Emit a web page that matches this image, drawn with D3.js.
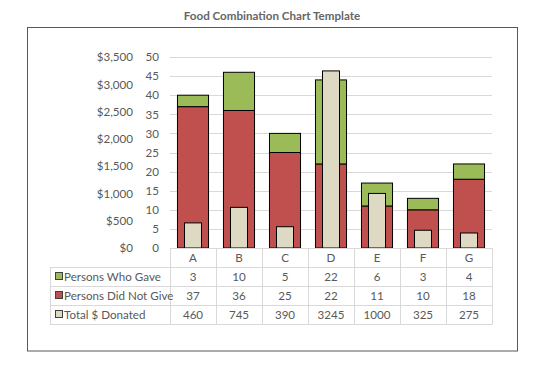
<!DOCTYPE html>
<html><head><meta charset="utf-8">
<script src="https://cdn.jsdelivr.net/npm/d3@7"></script>
<style>body{margin:0;background:#fff}svg{display:block}text{font-family:Lato,"Open Sans",sans-serif}</style>
</head><body>
<script>
const categories = ["A","B","C","D","E","F","G"];
const personsWhoGave = [3,10,5,22,6,3,4];
const personsDidNotGive = [37,36,25,22,11,10,18];
const totalDonated = [460,745,390,3245,1000,325,275];
const personTicks = [0,5,10,15,20,25,30,35,40,45,50];
const dollarTicks = [0,500,1000,1500,2000,2500,3000,3500];
const seriesNames = ["Persons Who Gave","Persons Did Not Give","Total $ Donated"];
const seriesColors = ["#9BBB59","#C0504D","#DDD9C3"];

const W=552,H=392;
const svg=d3.select("body").append("svg").attr("width",W).attr("height",H);
const txt="#595959", grid="#D9D9D9";
const fs=11.6;

svg.append("rect").attr("x",27.5).attr("y",27.5).attr("width",490).attr("height",323.5)
  .attr("fill","none").attr("stroke","#595959").attr("stroke-width",1);

svg.append("text").attr("x",272).attr("y",20).attr("text-anchor","middle")
  .attr("font-size",11.6).attr("font-weight","bold").attr("fill","#666").text("Food Combination Chart Template");

const x=d3.scaleBand().domain(categories).range([170,492]).padding(0);
const yP=d3.scaleLinear().domain([0,50]).range([248,57]);
const yD=d3.scaleLinear().domain([0,3500]).range([248,57]);

// gridlines
svg.append("g").selectAll("line").data(personTicks.slice(1)).join("line")
  .attr("x1",170).attr("x2",492).attr("y1",d=>Math.round(yP(d))+0.5).attr("y2",d=>Math.round(yP(d))+0.5)
  .attr("stroke",grid).attr("stroke-width",1);

// axes
const axP=svg.append("g").attr("transform","translate(159,0)")
  .call(d3.axisLeft(yP).tickValues(personTicks).tickSize(0).tickPadding(0));
const axD=svg.append("g").attr("transform","translate(133,0)")
  .call(d3.axisLeft(yD).tickValues(dollarTicks).tickSize(0).tickPadding(0).tickFormat(d3.format("$,")));
[axP,axD].forEach(a=>{a.select(".domain").remove();a.selectAll("text").attr("fill",txt).attr("font-size",fs).attr("font-family","Lato");});

const bw=x.bandwidth()*0.675, iw=x.bandwidth()*0.37;
const g=svg.append("g");
g.selectAll("rect.nd").data(categories).join("rect").attr("class","nd")
  .attr("x",d=>x(d)+(x.bandwidth()-bw)/2).attr("width",bw)
  .attr("y",(d,i)=>yP(personsDidNotGive[i])).attr("height",(d,i)=>yP(0)-yP(personsDidNotGive[i]))
  .attr("fill",seriesColors[1]).attr("stroke","#000").attr("stroke-width",1);
g.selectAll("rect.gv").data(categories).join("rect").attr("class","gv")
  .attr("x",d=>x(d)+(x.bandwidth()-bw)/2).attr("width",bw)
  .attr("y",(d,i)=>yP(personsDidNotGive[i]+personsWhoGave[i])).attr("height",(d,i)=>yP(personsDidNotGive[i])-yP(personsDidNotGive[i]+personsWhoGave[i]))
  .attr("fill",seriesColors[0]).attr("stroke","#000").attr("stroke-width",1);
g.selectAll("rect.td").data(categories).join("rect").attr("class","td")
  .attr("x",d=>x(d)+(x.bandwidth()-iw)/2).attr("width",iw)
  .attr("y",(d,i)=>yD(totalDonated[i])).attr("height",(d,i)=>yD(0)-yD(totalDonated[i]))
  .attr("fill",seriesColors[2]).attr("stroke","#000").attr("stroke-width",1);

// data table
const rowTop=[248,267,286,305,324];
const tg=svg.append("g");
const hl=(x1,x2,y)=>tg.append("line").attr("x1",x1).attr("x2",x2).attr("y1",y+0.5).attr("y2",y+0.5).attr("stroke",grid);
const vl=(xx,y1,y2)=>tg.append("line").attr("x1",xx+0.5).attr("x2",xx+0.5).attr("y1",y1).attr("y2",y2).attr("stroke",grid);
hl(170,492,248); hl(50,492,267); hl(50,492,286); hl(50,492,305); hl(50,492,324);
vl(50,267,324.5);
categories.forEach(c=>vl(x(c),248,324.5)); vl(492,248,324.5);
tg.selectAll("text.cat").data(categories).join("text").attr("class","cat")
  .attr("x",d=>x(d)+x.bandwidth()/2).attr("y",262).attr("text-anchor","middle")
  .attr("font-size",fs).attr("fill",txt).text(d=>d);
const rows=[personsWhoGave,personsDidNotGive,totalDonated];
rows.forEach((vals,r)=>{
  const yy=rowTop[r+1];
  tg.append("rect").attr("x",55.5).attr("y",yy+5.5).attr("width",7).attr("height",7)
    .attr("fill",seriesColors[r]).attr("stroke","#404040").attr("stroke-width",1);
  tg.append("text").attr("x",64).attr("y",yy+14).attr("font-size",fs).attr("fill",txt).text(seriesNames[r]);
  tg.selectAll(null).data(vals).join("text")
    .attr("x",(d,i)=>x(categories[i])+x.bandwidth()/2).attr("y",yy+14).attr("text-anchor","middle")
    .attr("font-size",fs).attr("fill",txt).text(d=>d);
});
</script>
</body></html>
